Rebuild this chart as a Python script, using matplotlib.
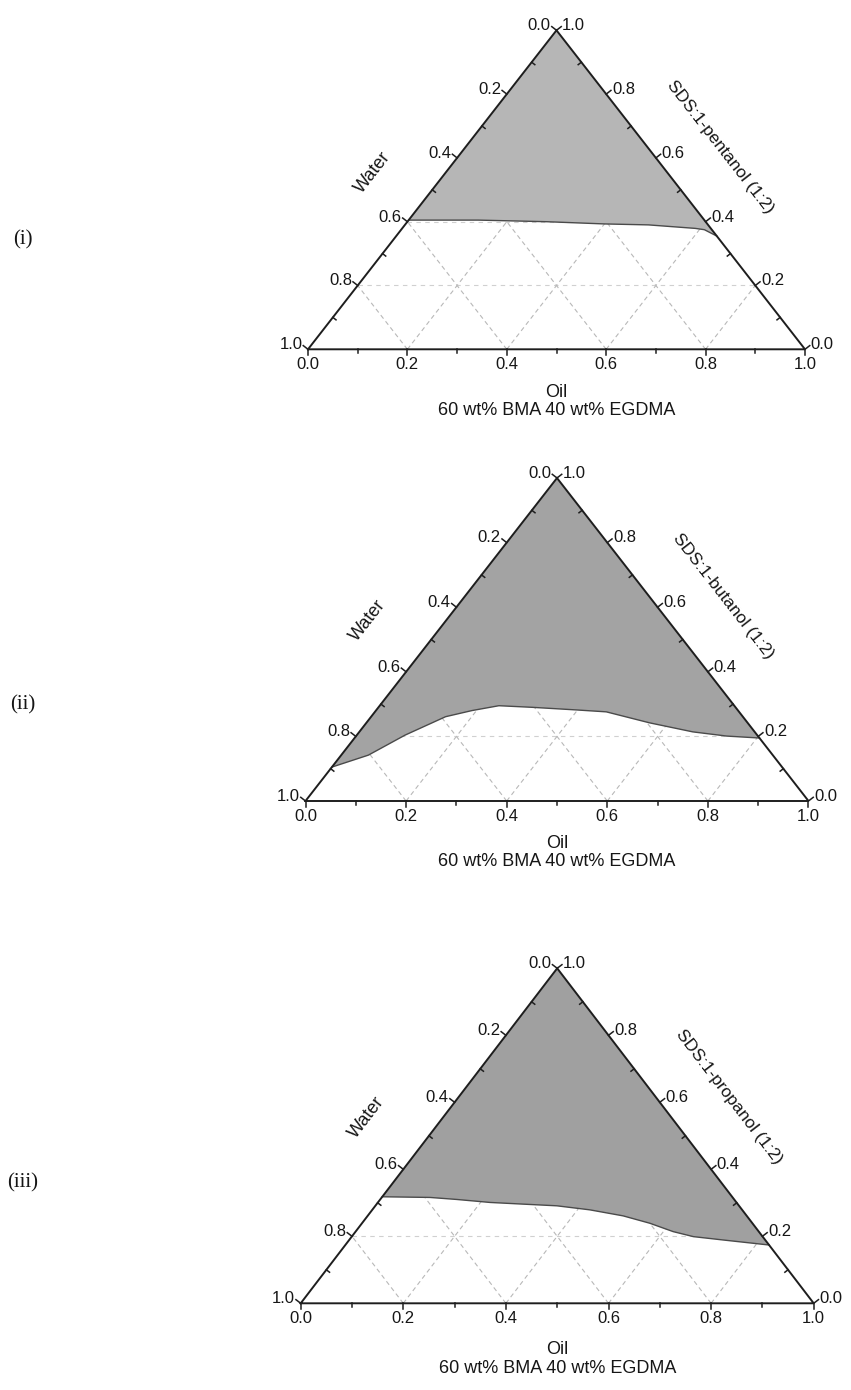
import numpy as np
import matplotlib
matplotlib.use("Agg")
import matplotlib.pyplot as plt

# ternary phase diagrams: water / oil / surfactant:cosurfactant
PANEL_LABELS = ["(i)", "(ii)", "(iii)"]
SURF_NAMES = ["SDS:1-pentanol (1:2)", "SDS:1-butanol (1:2)", "SDS:1-propanol (1:2)"]
OIL_NAME = "Oil"
OIL_SUB = "60 wt% BMA 40 wt% EGDMA"
WATER_NAME = "Water"
TICKS = [0.0, 0.2, 0.4, 0.6, 0.8, 1.0]
MINOR = [0.1, 0.3, 0.5, 0.7, 0.9]
GRID = [0.2, 0.4, 0.6, 0.8]

# phase boundary (oil fraction, surfactant fraction)
oil_i = [0.0, 0.14, 0.28, 0.40, 0.49, 0.59, 0.61, 0.645]
surf_i = [0.405, 0.405, 0.400, 0.393, 0.390, 0.379, 0.375, 0.355]
oil_ii = [0.0, 0.054, 0.096, 0.148, 0.191, 0.237, 0.306, 0.397, 0.460, 0.563, 0.663, 0.737, 0.805]
surf_ii = [0.105, 0.142, 0.204, 0.261, 0.280, 0.295, 0.290, 0.282, 0.276, 0.242, 0.214, 0.201, 0.195]
oil_iii = [0.0, 0.094, 0.149, 0.219, 0.286, 0.354, 0.424, 0.498, 0.561, 0.619, 0.666, 0.729, 0.826]
surf_iii = [0.318, 0.316, 0.310, 0.301, 0.296, 0.291, 0.279, 0.261, 0.239, 0.214, 0.199, 0.189, 0.174]
BOUNDS = [(oil_i, surf_i), (oil_ii, surf_ii), (oil_iii, surf_iii)]

# layout in pixels: left vertex x, baseline y, width, height
GEOM = [(308.0, 349.3, 497, 319), (305.5, 801.0, 503, 323), (300.7, 1303.3, 513, 335)]
FILLS = ["#b6b6b6", "#a3a3a3", "#a0a0a0"]
WATER_POS = [(0.13, 0.555), (0.125, 0.56), (0.128, 0.556)]
SURF_POS = [(0.83, 0.635), (0.83, 0.635), (0.835, 0.615)]
TITLE_DY = [(43, 61), (43, 61), (46, 65)]
PANEL_Y = [240, 705, 1183]

FW, FH = 851, 1390
SANS = ["Liberation Sans", "DejaVu Sans"]
TFS = 12
INK = "#161616"


def xy(oil, surf):
    oil, surf = np.asarray(oil, float), np.asarray(surf, float)
    return oil + surf / 2, surf


def draw_panel(fig, k):
    x0, base, W, H = GEOM[k]
    ax = fig.add_axes([x0 / FW, 1 - base / FH, W / FW, H / FH])
    ax.set_xlim(0, 1); ax.set_ylim(0, 1); ax.axis("off")

    def px(dx, dy):
        return dx / W, dy / H

    L = np.hypot(W / 2, H)
    nl = np.array([-H, W / 2]) / L   # outward normal, left edge (pixels)
    nr = np.array([H, W / 2]) / L    # outward normal, right edge
    kw = dict(clip_on=False)
    txt = dict(family=SANS, color=INK)

    # dashed grid
    gk = dict(color="#b8b8b8", lw=0.8, ls=(0, (4, 3)), zorder=1, **kw)
    for v in GRID:
        ax.plot([v, v + (1 - v) / 2], [0, 1 - v], **gk)
        ax.plot([1 - v, (1 - v) / 2], [0, 1 - v], **gk)
        ax.plot([v / 2, 1 - v / 2], [v, v], color="#d0d0d0", lw=0.8,
                ls=(0, (4, 4)), zorder=1, **kw)

    # single-phase region
    bx, by = xy(*BOUNDS[k])
    ax.fill(np.append(bx, 0.5), np.append(by, 1.0), color=FILLS[k], lw=0, zorder=2)
    ax.plot(bx, by, color="#4a4a4a", lw=1.0, zorder=3, **kw)

    # triangle
    ax.plot([0, 1, 0.5, 0], [0, 0, 1, 0], color="#1e1e1e", lw=1.4, zorder=4,
            solid_joinstyle="miter", **kw)

    tk = dict(color="#1e1e1e", lw=1.1, zorder=4, **kw)
    for t in TICKS:
        # bottom: oil
        ax.plot([t, t], [0, -6 / H], **tk)
        ax.text(t, -8 / H, f"{t:.1f}", ha="center", va="top", fontsize=TFS, **txt)
        # left: water (0 at apex)
        p = np.array([(1 - t) / 2, 1 - t])
        d = np.array(px(*(nl * 6)))
        ax.plot([p[0], p[0] + d[0]], [p[1], p[1] + d[1]], **tk)
        ax.text(p[0] + d[0] - 1 / W, p[1] + d[1] + 1 / H, f"{t:.1f}", ha="right",
                va="center", fontsize=TFS, **txt)
        # right: surfactant (0 at right vertex)
        p = np.array([1 - t / 2, t])
        d = np.array(px(*(nr * 6)))
        ax.plot([p[0], p[0] + d[0]], [p[1], p[1] + d[1]], **tk)
        ax.text(p[0] + d[0] + 1 / W, p[1] + d[1] + 1 / H, f"{t:.1f}", ha="left",
                va="center", fontsize=TFS, **txt)
    for t in MINOR:
        ax.plot([t, t], [0, -4 / H], **tk)
        p = np.array([(1 - t) / 2, 1 - t]); d = np.array(px(*(-nl * 4)))
        ax.plot([p[0], p[0] + d[0]], [p[1], p[1] + d[1]], **tk)
        p = np.array([1 - t / 2, t]); d = np.array(px(*(-nr * 4)))
        ax.plot([p[0], p[0] + d[0]], [p[1], p[1] + d[1]], **tk)

    ang = np.degrees(np.arctan2(H, W / 2))
    ax.text(*WATER_POS[k], WATER_NAME, rotation=ang, rotation_mode="anchor",
            ha="center", va="center", fontsize=13, **txt)
    ax.text(*SURF_POS[k], SURF_NAMES[k], rotation=-ang, rotation_mode="anchor",
            ha="center", va="center", fontsize=12.5, **txt)
    d1, d2 = TITLE_DY[k]
    ax.text(0.5, -d1 / H, OIL_NAME, ha="center", va="center", fontsize=13, **txt)
    ax.text(0.5, -d2 / H, OIL_SUB, ha="center", va="center", fontsize=13, **txt)

    fig.text(23 / FW, 1 - PANEL_Y[k] / FH, PANEL_LABELS[k], ha="center", va="center",
             fontsize=15, family=["Liberation Serif", "DejaVu Serif"], color=INK)


def main():
    fig = plt.figure(figsize=(FW / 100, FH / 100), dpi=100)
    for k in range(3):
        draw_panel(fig, k)
    fig.savefig("out.png", dpi=100, facecolor="white")


if __name__ == "__main__":
    main()
